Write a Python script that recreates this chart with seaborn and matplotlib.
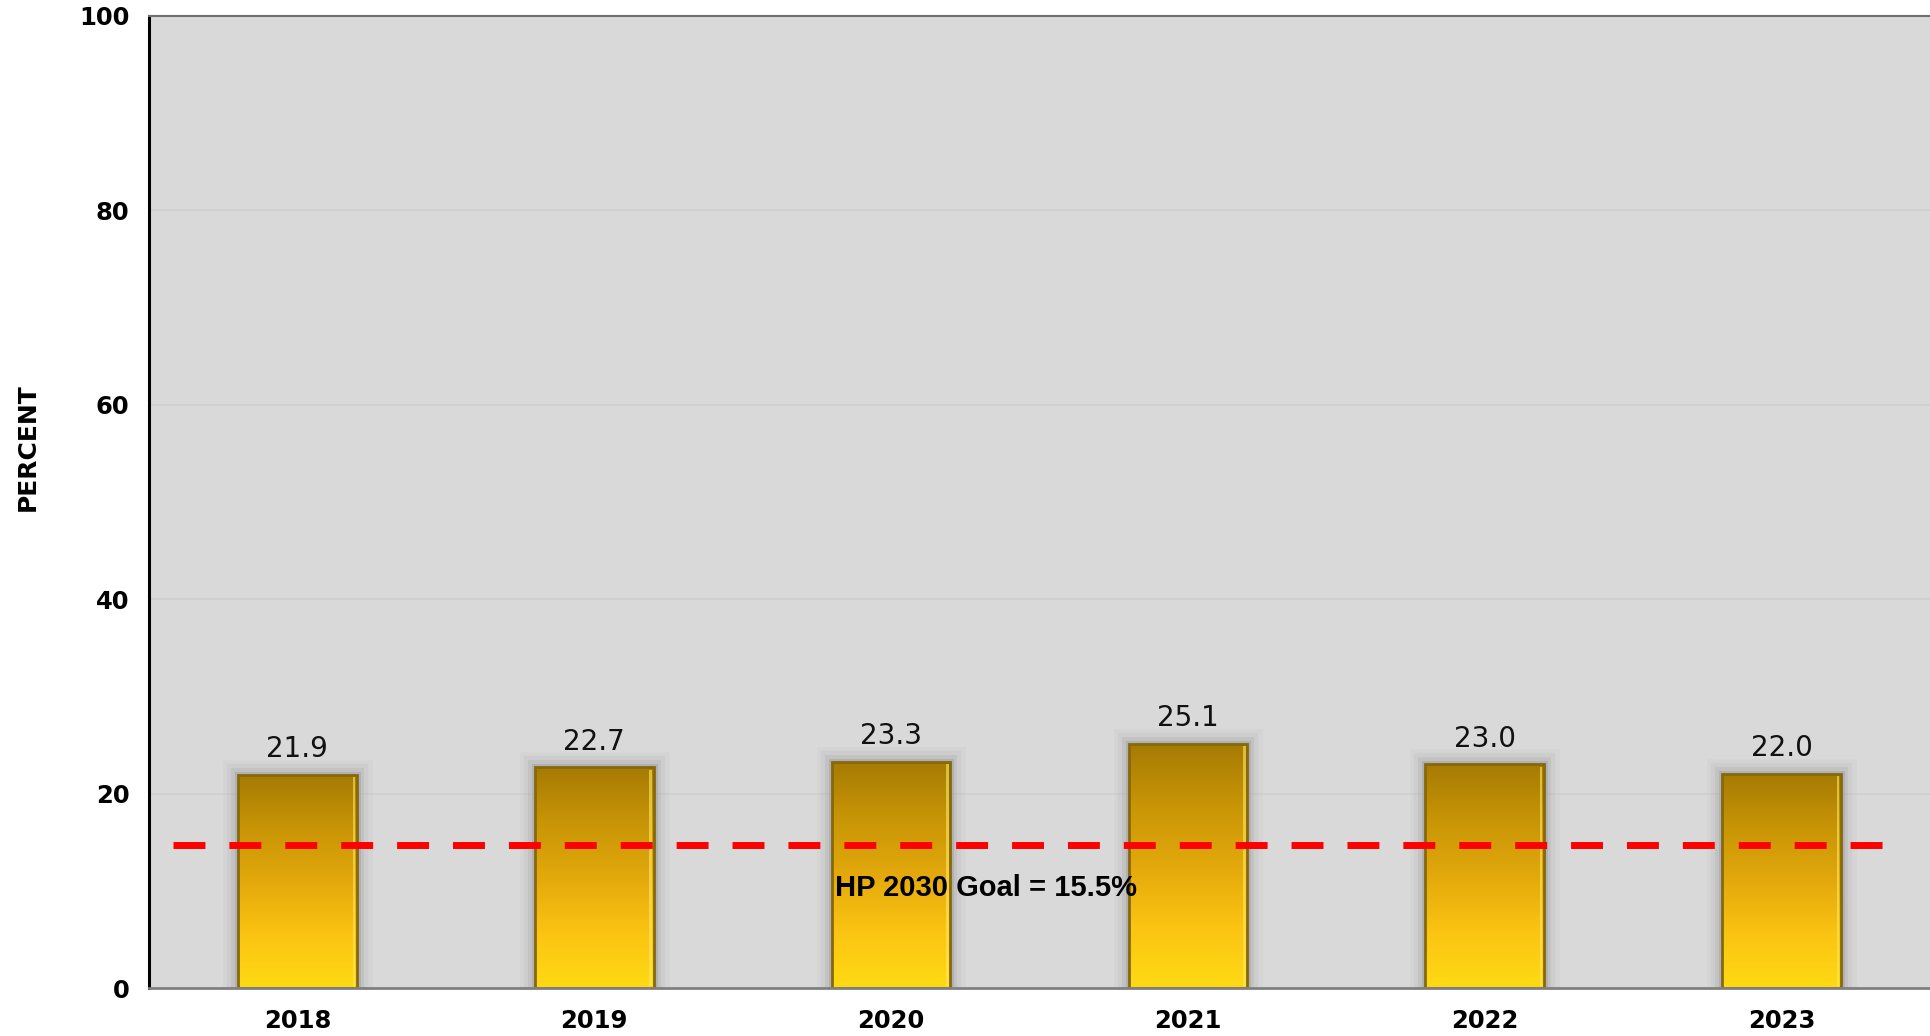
import numpy as np
import pandas as pd
import matplotlib
matplotlib.use("Agg")
import matplotlib.pyplot as plt
import matplotlib.patheffects as pe
from matplotlib.colors import LinearSegmentedColormap
from matplotlib.patches import Rectangle
import seaborn as sns

# ---- data ----
years = ["2018", "2019", "2020", "2021", "2022", "2023"]
percent = [21.9, 22.7, 23.3, 25.1, 23.0, 22.0]
goal_line_value = 14.7   # where the dashed line sits in the picture
goal_label = "HP 2030 Goal = 15.5%"
y_ticks = [0, 20, 40, 60, 80, 100]

df = pd.DataFrame({"year": years, "percent": percent})

sns.set_theme(style="white")
plt.rcParams["font.family"] = ["DejaVu Sans"]
plt.rcParams["text.color"] = "black"
plt.rcParams["axes.labelcolor"] = "black"
plt.rcParams["xtick.color"] = "black"
plt.rcParams["ytick.color"] = "black"

fig = plt.figure(figsize=(19.31, 10.36), dpi=100)
ax = fig.add_axes([149 / 1931, 48 / 1036, 1 - 149 / 1931 - 0.0005, (988 - 16) / 1036])
ax.set_facecolor("#d9d9d9")

shadow = [
    pe.Stroke(linewidth=22, foreground="#b8b8b8", alpha=0.12),
    pe.Stroke(linewidth=16, foreground="#a8a8a8", alpha=0.15),
    pe.Stroke(linewidth=10, foreground="#9a9a9a", alpha=0.2),
    pe.Stroke(linewidth=5, foreground="#8a8a8a", alpha=0.3),
    pe.Normal(),
]

sns.barplot(data=df, x="year", y="percent", color="#e0b010", width=0.4,
            edgecolor="none", linewidth=0, ax=ax, zorder=2)

grad_cmap = LinearSegmentedColormap.from_list(
    "gold", ["#ffda14", "#fbc412", "#e3a90c", "#c89506", "#a67b04"])
grad = np.linspace(0, 1, 256).reshape(-1, 1)

for p in ax.patches:
    p.set_path_effects(shadow)
    x0, y0 = p.get_x(), p.get_y()
    w, h = p.get_width(), p.get_height()
    im = ax.imshow(grad, cmap=grad_cmap, aspect="auto", origin="lower",
                   extent=(x0, x0 + w, y0, y0 + h), zorder=2.1,
                   interpolation="bilinear")
    im.set_clip_path(p)
    ax.add_patch(Rectangle((x0, y0), w, h, fill=False, edgecolor="#86690a",
                           linewidth=2.0, zorder=2.2))
    ax.add_patch(Rectangle((x0 + w * 0.965, y0 + h * 0.01), w * 0.02, h * 0.98,
                           facecolor="#ffe860", edgecolor="none", alpha=0.6,
                           zorder=2.25))
    ax.text(x0 + w / 2, y0 + h + 1.2, f"{h:.1f}", ha="center", va="bottom",
            fontsize=20, color="#111111", zorder=4)

ax.set_xlim(-0.5, 5.5)
ax.set_ylim(0, 100)

ax.plot([-0.42, 5.36], [goal_line_value, goal_line_value], color="#ff0000",
        linewidth=5, dashes=(4.6, 3.45), dash_capstyle="butt", zorder=3)
ax.text(1.81, goal_line_value - 4.4, goal_label, ha="left", va="center",
        fontsize=21, fontweight="bold", family=["Liberation Sans", "DejaVu Sans"],
        color="black", zorder=4)

ax.set_yticks(y_ticks)
ax.set_yticklabels([str(v) for v in y_ticks], fontsize=17.5, fontweight="bold")
for lab in ax.get_xticklabels():
    lab.set_fontsize(17.5)
    lab.set_fontweight("bold")
ax.tick_params(axis="y", direction="inout", length=12, width=1.6, color="black",
               pad=8, labelcolor="black")
ax.tick_params(axis="x", length=0, pad=15, labelcolor="black")

ax.grid(axis="y", color="#cfcfcf", linewidth=1.2, zorder=0)
ax.set_axisbelow(True)

ax.set_xlabel("")
ax.set_ylabel("PERCENT", fontsize=18, fontweight="bold", color="black")
ax.yaxis.set_label_coords(-0.0615, 0.556)

ax.spines["right"].set_visible(False)
ax.spines["left"].set_color("black")
ax.spines["left"].set_linewidth(2.2)
ax.spines["bottom"].set_color("#808080")
ax.spines["bottom"].set_linewidth(2)
ax.spines["top"].set_color("#707070")
ax.spines["top"].set_linewidth(1.5)

fig.savefig("out.png", dpi=100, facecolor="white")
